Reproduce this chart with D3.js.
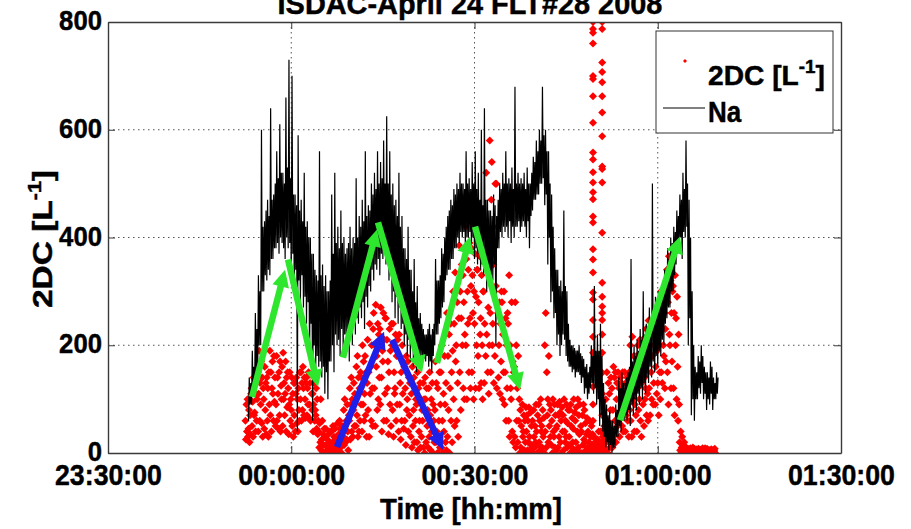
<!DOCTYPE html>
<html>
<head>
<meta charset="utf-8">
<script src="https://cdn.jsdelivr.net/npm/d3@7"></script>
<style>
  body { margin: 0; background: #fff; }
  text { font-family: "Liberation Sans", Arial, sans-serif; font-weight: bold; fill: #000;
         stroke: #000; stroke-width: 0.45px; }
</style>
</head>
<body>
<svg id="chart" width="911" height="529"></svg>
<script>
// ---- data -------------------------------------------------------------
const chartTitle = "ISDAC-April 24 FLT#28 2008";
const xTickLabels = ["23:30:00", "00:00:00", "00:30:00", "01:00:00", "01:30:00"];
const xTickMinutes = [-30, 0, 30, 60, 90];          // minutes from 00:00
const yTicks = [0, 200, 400, 600, 800];

// Na concentration, sampled every 7.5 s starting 23:53:00 (five minutes per row)
const naStartMin = -7.0;
const naStepMin = 0.125;
const na = [
  60,140,90,130, 90,190,110,160, 110,260,150,230, 140,330,200,300, 200,600,300,420,
  300,430,330,450, 320,470,340,440, 330,640,360,470, 360,480,380,500, 380,560,390,510,
  370,610,400,520, 390,520,380,500, 360,660,400,530, 380,730,390,510, 330,700,370,480,
  300,480,340,460, 40,590,320,450, 280,470,330,430, 270,520,290,420, 240,430,280,400,
  170,400,240,370, 60,370,200,340, 150,330,180,320, 160,560,170,330, 140,350,160,310,
  110,330,150,300, 100,300,170,320, 170,480,200,370, 150,520,220,390, 200,420,210,380,
  180,450,230,390, 190,400,220,370, 220,380,230,390, 170,420,240,380, 200,400,240,390,
  220,510,250,400, 240,440,270,420, 250,470,280,430, 230,560,290,440, 270,460,310,450,
  300,500,340,480, 320,520,350,490, 340,560,360,500, 330,540,370,510, 360,580,380,500,
  350,625,360,500, 320,560,330,480, 280,500,300,460, 250,470,290,440, 240,520,270,420,
  230,440,240,380, 200,380,220,360, 180,420,210,340, 170,340,200,300, 160,360,180,280,
  150,310,170,250, 170,260,180,240, 180,230,175,220, 170,220,180,230, 160,240,170,220,
  150,230,180,240, 200,360,220,320, 220,320,240,330, 250,380,270,370, 280,400,320,420,
  330,440,340,450, 340,470,360,460, 360,490,380,480, 380,500,400,490, 390,520,410,500,
  400,500,410,490, 390,560,400,500, 400,510,410,490, 380,540,400,500, 360,560,380,490,
  350,520,370,470, 340,600,350,460, 330,640,350,470, 300,470,340,450, 310,450,330,440,
  320,480,350,460, 200,440,380,470, 380,500,410,490, 400,520,420,500, 410,560,420,500,
  400,510,430,500, 390,530,420,490, 400,680,420,500, 420,520,430,500, 410,510,420,500,
  430,520,420,490, 400,530,430,500, 380,500,440,520, 450,550,470,540, 470,580,480,560,
  480,600,500,580, 500,680,510,590, 460,600,480,560, 350,560,400,500, 280,480,300,420,
  250,380,260,340, 200,340,220,310, 180,320,200,300, 220,450,210,310, 180,300,170,240,
  160,210,160,200, 150,200,155,195, 140,190,150,190, 150,200,145,185, 130,180,140,175,
  110,160,120,165, 100,150,110,160, 120,200,130,180, 110,310,120,190, 90,220,100,190,
  50,240,70,180, 40,130,30,100, 10,90,20,70, 5,80,15,60, 0,60,10,50,
  10,90,30,80, 30,140,50,120, 40,150,60,130, 60,130,70,140, 60,150,80,160,
  50,360,90,170, 70,200,100,180, 80,210,110,190, 90,230,120,210, 100,300,130,220,
  110,240,140,230, 130,270,160,250, 140,500,170,260, 150,290,180,270, 160,300,190,280,
  180,310,210,300, 200,340,240,330, 250,380,270,360, 270,400,300,390, 300,420,330,410,
  350,450,370,440, 380,480,400,470, 360,520,410,490, 400,580,420,500, 200,470,250,400,
  70,300,100,200, 60,160,100,150, 100,180,120,170, 110,200,130,180, 100,160,110,150,
  80,150,100,140, 90,170,110,160, 80,140,100,130, 100,150,110,140
];

// 2DC concentration [L^-1], sampled every 5 s starting 23:52:30 (one minute per row)
const dcStartMin = -7.5;
const dcStepMin = 1 / 12;
const dc = [
  60, 25, 90, 40, 100, 30, 45, 80, 20, 70, 35, 110,
  120, 50, 95, 30, 140, 70, 75, 130, 40, 110, 60, 100,
  150, 40, 110, 190, 60, 130, 90, 170, 55, 140, 30, 120,
  100, 45, 160, 80, 130, 35, 140, 60, 120, 30, 150, 90,
  190, 70, 150, 40, 120, 170, 110, 60, 180, 95, 140, 50,
  90, 180, 60, 140, 110, 45, 150, 70, 170, 40, 125, 100,
  160, 50, 186, 100, 130, 70, 110, 170, 40, 140, 85, 150,
  120, 35, 90, 150, 60, 100, 80, 140, 50, 110, 30, 130,
  70, 130, 40, 110, 140, 55, 100, 40, 120, 80, 60, 150,
  100, 150, 60, 130, 80, 160, 120, 70, 140, 100, 65, 130,
  140, 70, 120, 90, 150, 65, 90, 130, 60, 145, 110, 80,
  110, 40, 90, 130, 60, 80, 70, 120, 45, 100, 35, 60,
  40, 10, 55, 20, 100, 5, 25, 60, 0, 35, 15, 45,
  30, 0, 45, 15, 5, 25, 10, 35, 20, 0, 40, 5,
  10, 40, 2, 20, 50, 0, 30, 0, 45, 10, 25, 15,
  25, 55, 5, 35, 15, 60, 45, 10, 30, 0, 50, 20,
  30, 80, 15, 100, 50, 20, 60, 25, 90, 40, 5, 70,
  60, 120, 25, 90, 140, 40, 100, 30, 80, 130, 50, 110,
  100, 50, 160, 70, 180, 30, 140, 40, 120, 60, 150, 90,
  140, 40, 200, 90, 170, 60, 110, 180, 70, 150, 30, 130,
  210, 80, 150, 30, 240, 110, 160, 60, 200, 120, 50, 230,
  260, 120, 200, 50, 275, 160, 180, 80, 240, 100, 220, 140,
  230, 90, 270, 140, 40, 190, 170, 260, 60, 210, 110, 250,
  250, 60, 210, 120, 170, 35, 150, 230, 90, 190, 50, 240,
  200, 80, 240, 30, 150, 110, 120, 220, 60, 180, 90, 210,
  180, 40, 220, 90, 130, 25, 150, 60, 200, 110, 170, 45,
  160, 60, 120, 15, 180, 80, 100, 170, 40, 140, 70, 130,
  140, 30, 110, 10, 160, 50, 80, 140, 20, 120, 60, 100,
  90, 20, 150, 5, 120, 40, 60, 130, 10, 100, 30, 80,
  60, 130, 10, 100, 0, 140, 100, 20, 120, 50, 80, 10,
  120, 30, 150, 70, 5, 100, 40, 130, 0, 90, 60, 20,
  80, 170, 20, 130, 40, 0, 120, 0, 60, 150, 10, 90,
  150, 10, 200, 60, 0, 110, 40, 180, 90, 20, 130, 5,
  260, 30, 180, 80, 220, 0, 120, 240, 60, 150, 20, 190,
  300, 100, 240, 50, 335, 170, 200, 60, 280, 130, 30, 250,
  385, 150, 300, 80, 250, 350, 200, 330, 120, 280, 100, 220,
  420, 200, 360, 100, 300, 240, 340, 150, 390, 250, 120, 310,
  380, 150, 330, 260, 100, 300, 240, 370, 120, 290, 200, 340,
  340, 180, 280, 120, 365, 220, 250, 130, 330, 200, 100, 300,
  300, 130, 240, 360, 180, 520, 220, 340, 150, 270, 110, 200,
  580, 260, 150, 470, 540, 200, 240, 350, 130, 300, 180, 500,
  310, 500, 120, 420, 260, 140, 200, 280, 110, 240, 170, 300,
  280, 100, 220, 150, 300, 90, 150, 250, 60, 200, 120, 260,
  240, 60, 330, 30, 200, 120, 100, 280, 40, 170, 20, 150,
  160, 30, 280, 10, 200, 60, 120, 20, 180, 60, 100, 0,
  80, 10, 50, 0, 90, 30, 40, 70, 5, 60, 20, 85,
  40, 70, 5, 60, 20, 85, 30, 0, 75, 15, 50, 10,
  60, 0, 80, 30, 10, 50, 20, 90, 40, 0, 70, 15,
  90, 20, 60, 5, 100, 40, 50, 10, 80, 30, 65, 0,
  200, 40, 260, 10, 150, 70, 100, 20, 180, 50, 90, 30,
  80, 15, 60, 0, 100, 40, 30, 90, 10, 70, 45, 5,
  50, 90, 10, 70, 30, 95, 75, 20, 60, 0, 85, 40,
  70, 5, 100, 40, 20, 60, 30, 90, 10, 55, 80, 15,
  30, 80, 0, 90, 50, 10, 65, 20, 45, 100, 5, 75,
  60, 20, 85, 5, 40, 100, 10, 70, 35, 90, 0, 50,
  40, 0, 70, 15, 90, 25, 80, 20, 55, 5, 35, 65,
  10, 40, 0, 20, 60, 5, 30, 0, 50, 15, 35, 0,
  5, 30, 0, 20, 10, 0, 15, 0, 25, 5, 40, 10,
  0, 15, 40, 5, 20, 0, 30, 0, 10, 50, 5, 25,
  100, 20, 150, 60, 0, 130, 40, 110, 10, 80, 140, 30,
  120, 10, 80, 160, 40, 140, 60, 150, 20, 100, 130, 50,
  150, 60, 120, 30, 100, 140, 80, 130, 50, 150, 40, 110,
  90, 150, 40, 130, 70, 110, 140, 60, 120, 30, 150, 80,
  200, 60, 150, 30, 216, 100, 120, 180, 40, 90, 160, 70,
  180, 40, 120, 200, 80, 160, 100, 210, 60, 150, 30, 130,
  210, 90, 170, 50, 140, 100, 120, 230, 70, 190, 110, 60,
  246, 120, 200, 70, 180, 150, 100, 180, 220, 90, 130, 200,
  220, 90, 160, 240, 110, 190, 130, 250, 70, 200, 150, 100,
  300, 150, 250, 130, 280, 200, 180, 260, 120, 230, 170, 290,
  340, 150, 280, 90, 365, 220, 200, 320, 120, 260, 170, 300,
  310, 120, 260, 70, 330, 200, 250, 100, 290, 160, 60, 220,
  90, 20, 5, 40, 0, 10, 30, 0, 15, 5, 20, 0,
  5, 0, 10, 3, 0, 8, 2, 7, 0, 4, 9, 1,
  0, 6, 2, 10, 0, 4, 8, 0, 5, 3, 0, 7,
  3, 0, 8, 2, 5, 0, 6, 1, 0, 4, 9, 2,
  0, 4, 1, 9, 0, 6, 3, 8, 0, 5, 2, 0,
  5, 0, 3, 7, 0, 2, 1, 6, 0, 4, 8, 0
];

// two short bursts of very high 2DC counts near 00:49 and 00:51
const burstMinutes = [49.4, 50.9];
const burstA = [800, 787, 780, 760, 700, 694, 662, 613, 558, 545, 521, 502, 484, 471, 439,
                428, 378, 359, 335, 298, 285, 247, 216, 186, 150, 123, 90, 60, 30, 10];
const burstB = [800, 787, 725, 707, 688, 662, 632, 588, 532, 527, 502, 409, 316, 290, 272,
                260, 247, 220, 186, 149, 110, 70, 40, 15];

// trend arrows: [start minute, start value, end minute, end value]
const greenArrows = [
  [-6.42, 104, -1.02, 340],
  [-0.53, 359, 4.38, 123],
  [8.47, 177, 14.04, 415],
  [14.2, 428, 21.41, 149],
  [23.86, 167, 29.27, 402],
  [30.09, 420, 37.45, 117],
  [53.82, 61, 63.65, 402]
];
const blueArrows = [
  [7.49, 11, 15.19, 225],
  [16.5, 210, 24.85, 6]
];

const legendLabels = ["2DC [L", "-1", "]", "Na"];
const xAxisTitle = "Time [hh:mm]";
const yAxisTitle = ["2DC [L", "-1", "]"];

// ---- layout -----------------------------------------------------------
const svg = d3.select("#chart");
const plot = { left: 108, right: 841, top: 22, bottom: 453 };
const midnight = new Date(2008, 3, 24, 0, 0, 0);
const at = m => new Date(+midnight + m * 60000);

const x = d3.scaleTime().domain([at(-30), at(90)]).range([plot.left, plot.right]);
const y = d3.scaleLinear().domain([0, 800]).range([plot.bottom, plot.top]);

svg.append("rect").attr("width", 911).attr("height", 529).attr("fill", "#fff");

// squeeze a text element horizontally to a target width around anchor ax
function squeeze(sel, width, ax) {
  sel.each(function () {
    const w = this.getBBox().width;
    const k = width / w;
    d3.select(this).attr("transform", `translate(${ax},0) scale(${k},1) translate(${-ax},0)`);
  });
}

svg.append("defs").append("clipPath").attr("id", "plotClip")
  .append("rect")
  .attr("x", plot.left).attr("y", plot.top)
  .attr("width", plot.right - plot.left).attr("height", plot.bottom - plot.top);

// grid
const grid = svg.append("g").attr("stroke", "#555").attr("stroke-width", 1)
  .attr("stroke-dasharray", "1.5,3.5");
grid.selectAll("line.v").data(xTickMinutes.slice(1, -1)).join("line")
  .attr("x1", d => x(at(d))).attr("x2", d => x(at(d)))
  .attr("y1", plot.top).attr("y2", plot.bottom);
grid.selectAll("line.h").data(yTicks.slice(1, -1)).join("line")
  .attr("y1", d => y(d)).attr("y2", d => y(d))
  .attr("x1", plot.left).attr("x2", plot.right);

const data = svg.append("g").attr("clip-path", "url(#plotClip)");

// 2DC points
const diamond = "M0,-4L4,0L0,4L-4,0Z";
const dcPoints = dc.map((v, i) => ({ t: dcStartMin + i * dcStepMin, v }));
burstA.forEach(v => dcPoints.push({ t: burstMinutes[0], v }));
burstB.forEach(v => dcPoints.push({ t: burstMinutes[1], v }));
data.append("g").attr("fill", "#ff0000")
  .selectAll("path").data(dcPoints).join("path")
  .attr("d", diamond)
  .attr("transform", d => `translate(${x(at(d.t))},${y(d.v)})`);

// Na line
const naPoints = na.map((v, i) => ({ t: naStartMin + i * naStepMin, v }));
data.append("path").datum(naPoints)
  .attr("fill", "none").attr("stroke", "#000").attr("stroke-width", 1.2)
  .attr("d", d3.line().x(d => x(at(d.t))).y(d => y(d.v)));

// arrows
function drawArrows(list, color) {
  const g = data.append("g");
  list.forEach(([t0, v0, t1, v1]) => {
    const x0 = x(at(t0)), y0 = y(v0), x1 = x(at(t1)), y1 = y(v1);
    const len = Math.hypot(x1 - x0, y1 - y0);
    const ux = (x1 - x0) / len, uy = (y1 - y0) / len;
    const L = 17, W = 8.5;
    const bx = x1 - ux * L, by = y1 - uy * L;
    g.append("line")
      .attr("x1", x0).attr("y1", y0).attr("x2", bx + ux * 2).attr("y2", by + uy * 2)
      .attr("stroke", color).attr("stroke-width", 6.5);
    g.append("path")
      .attr("d", `M${x1},${y1}L${bx - uy * W},${by + ux * W}L${bx + uy * W},${by - ux * W}Z`)
      .attr("fill", color);
  });
}
drawArrows(greenArrows, "#2fe62f");
drawArrows(blueArrows, "#1f1fe8");

// axes
const axisColor = "#3a3a3a";
const tickDates = xTickMinutes.map(at);
const gx = svg.append("g").attr("transform", `translate(0,${plot.bottom})`)
  .call(d3.axisBottom(x).tickValues(tickDates).tickSizeInner(-7).tickSizeOuter(0)
    .tickFormat((d, i) => xTickLabels[i]));
const gxTop = svg.append("g").attr("transform", `translate(0,${plot.top})`)
  .call(d3.axisTop(x).tickValues(tickDates).tickSizeInner(-7).tickSizeOuter(0).tickFormat(""));
const gy = svg.append("g").attr("transform", `translate(${plot.left},0)`)
  .call(d3.axisLeft(y).tickValues(yTicks).tickSizeInner(-7).tickSizeOuter(0));
const gyRight = svg.append("g").attr("transform", `translate(${plot.right},0)`)
  .call(d3.axisRight(y).tickValues(yTicks).tickSizeInner(-7).tickSizeOuter(0).tickFormat(""));

[gx, gxTop, gy, gyRight].forEach(g => {
  g.selectAll("path.domain").attr("stroke", axisColor).attr("stroke-width", 1.4);
  g.selectAll(".tick line").attr("stroke", axisColor).attr("stroke-width", 1);
});

gx.selectAll(".tick text")
  .attr("y", 32).attr("dy", null)
  .attr("font-size", 30).attr("font-family", null).attr("fill", "#000");
gx.selectAll(".tick text").each(function () { squeeze(d3.select(this), 107, 0); });

gy.selectAll(".tick text")
  .attr("x", -6).attr("y", 7.5).attr("dy", null)
  .attr("font-size", 28).attr("font-family", null).attr("fill", "#000");
gy.selectAll(".tick text").each(function () {
  const n = this.textContent.length;
  squeeze(d3.select(this), 14.3 * n, -6);
});

// title
const tt = svg.append("text").attr("x", 470).attr("y", 14)
  .attr("text-anchor", "middle").attr("font-size", 29).text(chartTitle);
squeeze(tt, 385, 470);

// axis titles
const xt = svg.append("text").attr("x", 471).attr("y", 519)
  .attr("text-anchor", "middle").attr("font-size", 30).text(xAxisTitle);
squeeze(xt, 182, 471);

const yg = svg.append("g").attr("transform", "translate(52,239) rotate(-90)");
const yt = yg.append("text").attr("x", 0).attr("y", 0)
  .attr("text-anchor", "middle").attr("font-size", 28);
yt.append("tspan").text(yAxisTitle[0]);
yt.append("tspan").attr("font-size", 18).attr("dy", -11).text(yAxisTitle[1]);
yt.append("tspan").attr("dy", 11).text(yAxisTitle[2]);
squeeze(yt, 138, 0);

// legend
const lg = svg.append("g");
lg.append("rect").attr("x", 656).attr("y", 31).attr("width", 177).attr("height", 102)
  .attr("fill", "#fff").attr("stroke", "#333").attr("stroke-width", 1);
lg.append("path").attr("d", "M0,-2L2,0L0,2L-2,0Z").attr("fill", "#ff0000")
  .attr("transform", "translate(685,61)");
const l1 = lg.append("text").attr("x", 708).attr("y", 85).attr("font-size", 27);
l1.append("tspan").text(legendLabels[0]);
l1.append("tspan").attr("font-size", 18).attr("dy", -12).text(legendLabels[1]);
l1.append("tspan").attr("dy", 12).text(legendLabels[2]);
squeeze(l1, 117, 708);
lg.append("line").attr("x1", 663).attr("x2", 705).attr("y1", 108).attr("y2", 108)
  .attr("stroke", "#000").attr("stroke-width", 1);
const l2 = lg.append("text").attr("x", 708).attr("y", 122).attr("font-size", 29).text(legendLabels[3]);
squeeze(l2, 34, 708);
</script>
</body>
</html>
